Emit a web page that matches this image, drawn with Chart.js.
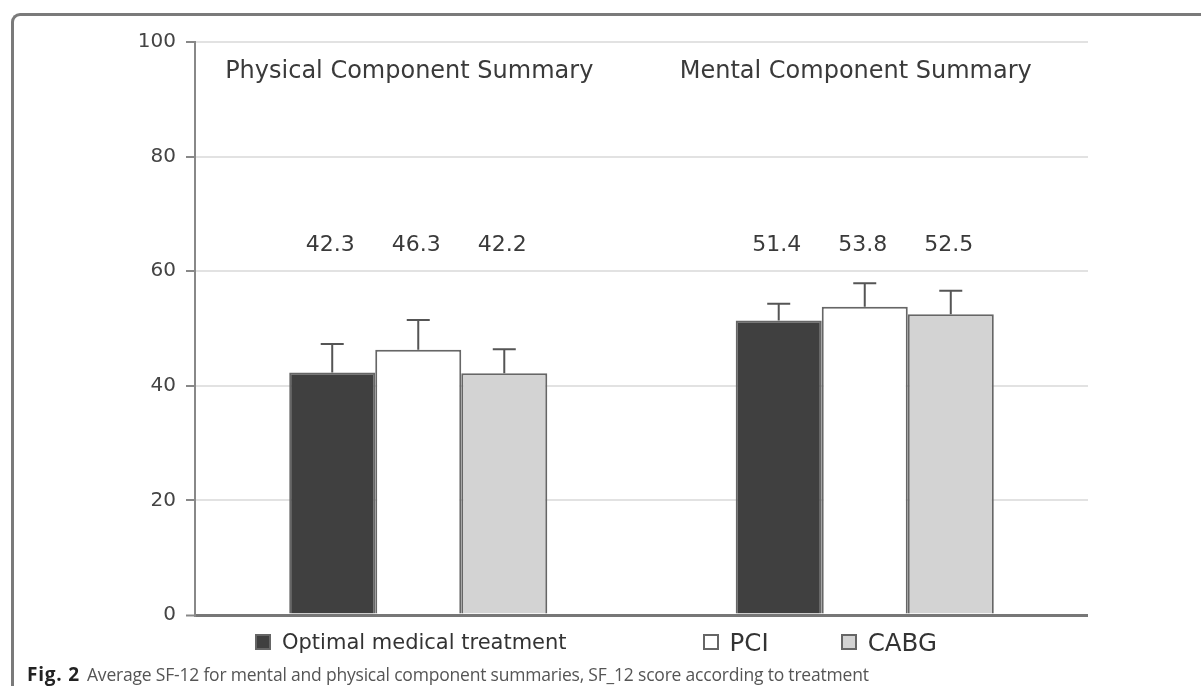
<!DOCTYPE html>
<html>
<head>
<meta charset="utf-8">
<script src="https://cdn.jsdelivr.net/npm/chart.js@4.4.1/dist/chart.umd.min.js"></script>
<style>
  html, body { margin: 0; padding: 0; background: #fff; overflow: hidden; }
  #page { position: relative; width: 1201px; height: 686px; overflow: hidden; background: #fff; }
  /* open figure frame: rounded top-left corner, lines running off the right and bottom */
  #corner {
    position: absolute; left: 11px; top: 13px; width: 20px; height: 20px;
    border-top: 3px solid #7a7a7a; border-left: 3px solid #7a7a7a;
    border-top-left-radius: 9px; box-sizing: border-box;
  }
  #topLine { position: absolute; left: 30px; top: 13px; width: 1171px; height: 3px; background: #7a7a7a; }
  #leftLine { position: absolute; left: 11px; top: 32px; width: 3px; height: 654px; background: #7a7a7a; }
  #chartBox { position: absolute; left: 0; top: 0; width: 1201px; height: 686px; }
  #legend {
    position: absolute; left: 255px; top: 627px; height: 30px; display: flex; align-items: center;
    font-family: "DejaVu Sans", sans-serif; color: #333;
  }
  #legend .item { display: flex; align-items: center; }
  #legend .swatch { width: 16px; height: 16px; box-sizing: border-box; border: 2px solid #666; margin-right: 11px; }
  #caption {
    position: absolute; left: 27px; top: 661px; white-space: nowrap;
    font-family: "Open Sans", sans-serif; font-size: 17.5px; color: #555; letter-spacing: -0.2px;
  }
  #caption b { color: #222; font-size: 19px; margin-right: 7px; letter-spacing: 0.8px; }
</style>
</head>
<body>
<div id="page">
  <div id="corner"></div>
  <div id="topLine"></div>
  <div id="leftLine"></div>
  <div id="chartBox"><canvas id="chart"></canvas></div>
  <div id="legend"></div>
  <div id="caption"><b>Fig. 2</b>Average SF-12 for mental and physical component summaries, SF_12 score according to treatment</div>
</div>
<script>
// Summary groups and treatment arms
const categories = ['Physical Component Summary', 'Mental Component Summary'];
const treatments = ['Optimal medical treatment', 'PCI', 'CABG'];

// Mean SF-12 scores per treatment (physical, mental)
const omtMeans  = [42.3, 51.4];
const pciMeans  = [46.3, 53.8];
const cabgMeans = [42.2, 52.5];

// Upper error bar lengths (standard deviation)
const omtSD  = [5.0, 2.9];
const pciSD  = [5.2, 4.1];
const cabgSD = [4.2, 4.1];

// Y-axis tick values
const yTicks = [0, 20, 40, 60, 80, 100];

const fills = ['#404040', '#ffffff', '#d3d3d3'];
const means = [omtMeans, pciMeans, cabgMeans];
const sds = [omtSD, pciSD, cabgSD];
const legendGaps = [136, 72, 0];
const legendSizes = [21, 24.5, 24.5];

// Legend below the axis
const legendEl = document.getElementById('legend');
treatments.forEach((name, i) => {
  const item = document.createElement('div');
  item.className = 'item';
  item.style.marginRight = legendGaps[i] + 'px';
  item.style.fontSize = legendSizes[i] + 'px';
  const sw = document.createElement('span');
  sw.className = 'swatch';
  sw.style.background = fills[i];
  const tx = document.createElement('span');
  tx.textContent = name;
  item.appendChild(sw);
  item.appendChild(tx);
  legendEl.appendChild(item);
});

// Error bars, value labels and group titles
const annotations = {
  id: 'annotations',
  afterDatasetsDraw(chart) {
    const ctx = chart.ctx;
    const y = chart.scales.y;
    const x = chart.scales.x;
    ctx.save();
    chart.data.datasets.forEach((ds, di) => {
      const meta = chart.getDatasetMeta(di);
      meta.data.forEach((bar, i) => {
        const top = y.getPixelForValue(ds.data[i] + sds[di][i]);
        ctx.strokeStyle = '#555';
        ctx.lineWidth = 2;
        ctx.beginPath();
        ctx.moveTo(bar.x, bar.y);
        ctx.lineTo(bar.x, top);
        ctx.moveTo(bar.x - 11.5, top);
        ctx.lineTo(bar.x + 11.5, top);
        ctx.stroke();

        ctx.fillStyle = '#3a3a3a';
        ctx.font = '22px "DejaVu Sans"';
        ctx.textAlign = 'center';
        ctx.textBaseline = 'middle';
        ctx.fillText(ds.data[i].toFixed(1), bar.x - 2, y.getPixelForValue(64.6));
      });
    });
    ctx.fillStyle = '#3a3a3a';
    ctx.font = '24px "DejaVu Sans"';
    ctx.textAlign = 'center';
    ctx.textBaseline = 'middle';
    categories.forEach((c, i) => {
      ctx.fillText(c, x.getPixelForValue(i) - 9, y.getPixelForValue(94.8));
    });
    ctx.restore();
  }
};

new Chart(document.getElementById('chart'), {
  type: 'bar',
  data: {
    labels: categories,
    datasets: treatments.map((t, i) => ({
      label: t,
      data: means[i],
      backgroundColor: fills[i],
      borderColor: '#666',
      borderWidth: 2,
      borderSkipped: 'bottom',
      categoryPercentage: 0.578,
      barPercentage: 1.0
    }))
  },
  options: {
    responsive: true,
    maintainAspectRatio: false,
    animation: false,
    layout: { padding: { left: 0, top: 42, right: 113, bottom: 71 } },
    plugins: { legend: { display: false }, tooltip: { enabled: false } },
    scales: {
      x: { display: false },
      y: {
        min: 0, max: 100,
        afterFit(scale) { scale.width = 195; },
        afterBuildTicks(scale) { scale.ticks = yTicks.map(v => ({ value: v })); },
        ticks: {
          padding: 10,
          color: '#444',
          font: { family: 'DejaVu Sans', size: 20 }
        },
        grid: {
          color: c => c.tick && c.tick.value === 0 ? '#777' : '#e2e2e2',
          lineWidth: c => c.tick && c.tick.value === 0 ? 3 : 2,
          tickColor: '#888',
          tickLength: 9,
          tickWidth: 2
        },
        border: { display: true, color: '#888', width: 2 }
      }
    }
  },
  plugins: [annotations]
});
</script>
</body>
</html>
